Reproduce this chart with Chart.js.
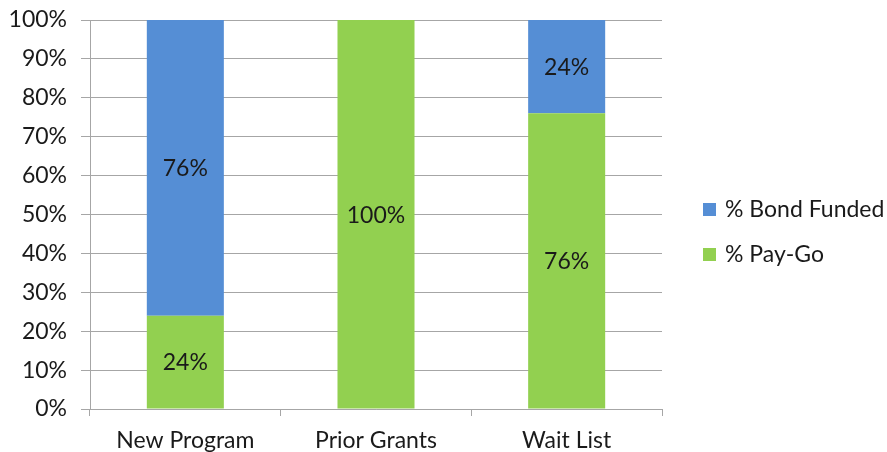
<!DOCTYPE html>
<html>
<head>
  <style>
    html,
    body {
      margin: 0;
      height: 100%;
      overflow: hidden;
      background: #fff;
    }
  </style>
</head>
<body>
  <div style="position: relative; width: 887px; height: 452px">
    <canvas id="chart1"></canvas>
  </div>
  <script src="https://cdn.jsdelivr.net/npm/chart.js@4"></script>
  <script>
    const categories = ['New Program', 'Prior Grants', 'Wait List']
    const payGo = [24, 100, 76]
    const bondFunded = [76, 0, 24]
    const yTicks = [0, 10, 20, 30, 40, 50, 60, 70, 80, 90, 100]

    const BLUE = '#558ED5'
    const GREEN = '#92D050'
    const TEXT = '#1a1a1a'
    const GRID = '#a6a6a6'
    const FONT = 'Lato'
    const SIZE = 23

    // percentages printed in the middle of each segment
    const segmentLabels = {
      id: 'segmentLabels',
      afterDatasetsDraw(chart) {
        const ctx = chart.ctx
        ctx.save()
        ctx.font = SIZE + 'px ' + FONT
        ctx.fillStyle = TEXT
        ctx.textAlign = 'center'
        ctx.textBaseline = 'middle'
        chart.data.datasets.forEach((ds, i) => {
          chart.getDatasetMeta(i).data.forEach((bar, j) => {
            const v = ds.data[j]
            if (!v) return
            const p = bar.getProps(['x', 'y', 'base'], true)
            ctx.fillText(v + '%', p.x, (p.y + p.base) / 2 + 1)
          })
        })
        ctx.restore()
      }
    }

    // legend on the right, bond funded listed first
    const sideLegend = {
      id: 'sideLegend',
      afterDraw(chart) {
        const ctx = chart.ctx
        const items = [chart.data.datasets[1], chart.data.datasets[0]]
        ctx.save()
        ctx.font = SIZE + 'px ' + FONT
        ctx.textBaseline = 'middle'
        items.forEach((ds, i) => {
          const y = 209 + i * 45
          ctx.fillStyle = ds.backgroundColor
          ctx.fillRect(703, y - 6, 13, 13)
          ctx.fillStyle = TEXT
          ctx.fillText(ds.label, 725, y + 1)
        })
        ctx.restore()
      }
    }

    new Chart(document.getElementById('chart1'), {
      type: 'bar',
      data: {
        labels: categories,
        datasets: [
          {
            label: '% Pay-Go',
            data: payGo,
            backgroundColor: GREEN,
            borderWidth: 0,
            barPercentage: 1,
            categoryPercentage: 0.404
          },
          {
            label: '% Bond Funded',
            data: bondFunded,
            backgroundColor: BLUE,
            borderWidth: 0,
            barPercentage: 1,
            categoryPercentage: 0.404
          }
        ]
      },
      plugins: [segmentLabels, sideLegend],
      options: {
        responsive: true,
        maintainAspectRatio: false,
        animation: false,
        layout: {
          padding: { top: 20, right: 225, left: 0, bottom: 0 }
        },
        plugins: {
          legend: { display: false },
          tooltip: { enabled: false }
        },
        scales: {
          x: {
            stacked: true,
            afterFit: s => {
              s.height = 43
              s.paddingLeft = 0
              s.paddingRight = 0
            },
            grid: {
              drawOnChartArea: false,
              drawTicks: true,
              tickLength: 7,
              color: GRID
            },
            border: { color: GRID },
            ticks: {
              color: TEXT,
              padding: 11,
              font: { family: FONT, size: SIZE }
            }
          },
          y: {
            stacked: true,
            min: 0,
            max: 100,
            afterFit: s => {
              s.width = 90
              s.paddingTop = 0
              s.paddingBottom = 0
            },
            afterBuildTicks: s => {
              s.ticks = yTicks.map(v => ({ value: v }))
            },
            grid: {
              color: GRID,
              tickLength: 9
            },
            border: { color: GRID },
            ticks: {
              color: TEXT,
              padding: 14,
              font: { family: FONT, size: SIZE },
              callback: v => v + '%'
            }
          }
        }
      }
    })
  </script>
</body>
</html>
